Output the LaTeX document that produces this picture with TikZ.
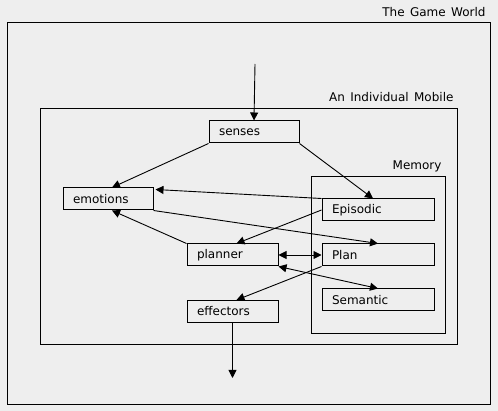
\documentclass[tikz,border=0pt]{standalone}
\usepackage{fontspec}
\setmainfont{DejaVu Sans}[WordSpace={1.4}]
\usepackage{tikz}
\usetikzlibrary{arrows.meta, positioning}
\definecolor{paper}{HTML}{EEEEEE}

\tikzset{
	part/.style={draw, line width=1pt, minimum height=22pt, inner xsep=10pt, inner ysep=0pt, align=left, text width=#1},
	part/.default=70pt,
	frame/.style={draw, line width=1pt},
	flow/.style={-{Triangle[length=8pt,width=8pt]}, line width=0.9pt},
	twoway/.style={{Triangle[length=8pt,width=8pt]}-{Triangle[length=8pt,width=8pt]}, line width=0.9pt}
}

\begin{document}
\begin{tikzpicture}[x=1pt, y=-1pt, node distance=45pt, on grid, font=\fontsize{12}{14}\selectfont]
	\fill[paper] (0,0) rectangle (498,411);
	\useasboundingbox (0,0) rectangle (498,411);
	
	% Frames
	\draw[frame] (7,23) rectangle (490,405);
	\draw[frame] (40,109) rectangle (457,345);
	\draw[frame] (311,177) rectangle (445,334);
	\node[anchor=east] (world) at (489,12) {The Game World};
	\node[anchor=east] (mobile) at (457,97) {An Individual Mobile};
	\node[anchor=east] (memory) at (445,166) {Memory};
	
	\node[part] (senses) at (254,132) {senses};
	\node[part] (emotions) at (108,199) {emotions};
	\node[part=92pt] (episodic) at (378,210) {Episodic};
	\node[part=92pt, below=of episodic] (plan) {Plan};
	\node[part=92pt, below=of plan] (semantic) {Semantic};
	\node[part=71pt] (planner) at (232.5,255) {planner};
	\node[part=71pt, below=56.5pt of planner] (effectors) {effectors};
	\coordinate (in) at (255,64);
	\coordinate (out) at (232.5,378);
	
	% Connections
	\draw[flow] (in) -- (senses.north);
	\draw[flow] (senses.south west) -- ([xshift=4pt]emotions.north);
	\draw[flow] (senses.south east) -- ([xshift=-5pt]episodic.north);
	\draw[flow] (episodic.north west) -- ([xshift=2pt,yshift=-2pt]emotions.north east);
	\draw[flow] (episodic.west) -- ([xshift=4pt]planner.north);
	\draw[flow] (emotions.south east) -- (plan.north);
	\draw[flow] (planner.north west) -- ([xshift=4pt]emotions.south);
	\draw[twoway] (planner.east) -- (plan.west);
	\draw[twoway] (planner.south east) -- (semantic.north);
	\draw[flow] (plan.south west) -- ([xshift=4pt]effectors.north);
	\draw[flow] (effectors.south) -- (out);
\end{tikzpicture}
\end{document}
